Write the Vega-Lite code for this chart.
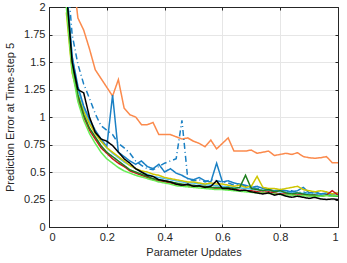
{
  "$schema": "https://vega.github.io/schema/vega-lite/v6.json",
  "autosize": "none",
  "width": 289,
  "height": 220,
  "padding": {"left": 49, "top": 7, "right": 9, "bottom": 36},
  "background": "white",
  "config": {
    "view": {"stroke": "#262626", "strokeWidth": 1},
    "font": "Liberation Sans",
    "axis": {
      "labelFont": "Liberation Sans",
      "titleFont": "Liberation Sans",
      "labelFontSize": 11,
      "titleFontSize": 11,
      "titleFontWeight": "normal",
      "labelColor": "#262626",
      "titleColor": "#262626",
      "domainColor": "#262626",
      "tickColor": "#262626",
      "gridColor": "#e6e6e6",
      "gridWidth": 1
    }
  },
  "data": {
    "values": [
      {"x":0.06,"o":2.9,"bd":2.4,"c":2.2,"b":2.2,"yl":1.95,"r":2.05,"g":2.1,"lg":2.0,"k":2.15},
      {"x":0.08,"o":2.35,"bd":1.75,"c":1.55,"b":1.55,"yl":1.4,"r":1.45,"g":1.48,"lg":1.42,"k":1.5},
      {"x":0.10,"o":1.9,"bd":1.48,"c":1.25,"b":1.28,"yl":1.2,"r":1.17,"g":1.2,"lg":1.14,"k":1.25},
      {"x":0.12,"o":1.79,"bd":1.3,"c":1.08,"b":1.1,"yl":1.05,"r":1.0,"g":1.02,"lg":0.97,"k":1.22},
      {"x":0.14,"o":1.62,"bd":1.17,"c":0.96,"b":0.98,"yl":0.94,"r":0.88,"g":0.9,"lg":0.85,"k":1.0},
      {"x":0.16,"o":1.43,"bd":1.03,"c":0.86,"b":0.88,"yl":0.85,"r":0.8,"g":0.82,"lg":0.76,"k":0.86},
      {"x":0.18,"o":1.35,"bd":0.92,"c":0.78,"b":0.8,"yl":0.78,"r":0.72,"g":0.74,"lg":0.68,"k":0.8},
      {"x":0.20,"o":1.27,"bd":0.88,"c":0.72,"b":0.73,"yl":0.72,"r":0.67,"g":0.68,"lg":0.62,"k":0.78},
      {"x":0.22,"o":1.19,"bd":0.84,"c":0.67,"b":1.2,"yl":0.68,"r":0.62,"g":0.64,"lg":0.58,"k":0.74},
      {"x":0.24,"o":1.34,"bd":0.76,"c":0.63,"b":0.68,"yl":0.64,"r":0.58,"g":0.6,"lg":0.54,"k":0.68},
      {"x":0.26,"o":1.08,"bd":0.72,"c":0.59,"b":0.64,"yl":0.6,"r":0.55,"g":0.56,"lg":0.51,"k":0.62},
      {"x":0.28,"o":1.02,"bd":0.67,"c":0.56,"b":0.6,"yl":0.56,"r":0.51,"g":0.52,"lg":0.49,"k":0.58},
      {"x":0.30,"o":1.0,"bd":0.6,"c":0.53,"b":0.57,"yl":0.53,"r":0.49,"g":0.5,"lg":0.47,"k":0.53},
      {"x":0.32,"o":0.93,"bd":0.56,"c":0.5,"b":0.6,"yl":0.51,"r":0.47,"g":0.48,"lg":0.455,"k":0.5},
      {"x":0.34,"o":0.93,"bd":0.53,"c":0.48,"b":0.55,"yl":0.5,"r":0.45,"g":0.46,"lg":0.44,"k":0.47},
      {"x":0.36,"o":0.95,"bd":0.52,"c":0.46,"b":0.53,"yl":0.48,"r":0.43,"g":0.44,"lg":0.425,"k":0.46},
      {"x":0.38,"o":0.84,"bd":0.55,"c":0.45,"b":0.57,"yl":0.47,"r":0.42,"g":0.43,"lg":0.41,"k":0.43},
      {"x":0.40,"o":0.84,"bd":0.58,"c":0.44,"b":0.5,"yl":0.45,"r":0.41,"g":0.42,"lg":0.4,"k":0.42},
      {"x":0.42,"o":0.84,"bd":0.6,"c":0.43,"b":0.53,"yl":0.44,"r":0.4,"g":0.41,"lg":0.39,"k":0.41},
      {"x":0.44,"o":0.82,"bd":0.62,"c":0.42,"b":0.49,"yl":0.43,"r":0.385,"g":0.4,"lg":0.375,"k":0.39},
      {"x":0.46,"o":0.8,"bd":0.97,"c":0.41,"b":0.47,"yl":0.42,"r":0.38,"g":0.39,"lg":0.37,"k":0.38},
      {"x":0.48,"o":0.81,"bd":0.44,"c":0.4,"b":0.44,"yl":0.41,"r":0.37,"g":0.38,"lg":0.365,"k":0.39},
      {"x":0.50,"o":0.78,"bd":0.42,"c":0.4,"b":0.43,"yl":0.41,"r":0.365,"g":0.38,"lg":0.36,"k":0.37},
      {"x":0.52,"o":0.76,"bd":0.43,"c":0.39,"b":0.45,"yl":0.4,"r":0.37,"g":0.37,"lg":0.355,"k":0.375},
      {"x":0.54,"o":0.73,"bd":0.41,"c":0.385,"b":0.42,"yl":0.39,"r":0.36,"g":0.37,"lg":0.35,"k":0.36},
      {"x":0.56,"o":0.79,"bd":0.43,"c":0.38,"b":0.41,"yl":0.4,"r":0.355,"g":0.36,"lg":0.345,"k":0.37},
      {"x":0.58,"o":0.71,"bd":0.42,"c":0.375,"b":0.58,"yl":0.39,"r":0.35,"g":0.36,"lg":0.34,"k":0.42},
      {"x":0.60,"o":0.76,"bd":0.41,"c":0.37,"b":0.41,"yl":0.39,"r":0.35,"g":0.355,"lg":0.34,"k":0.35},
      {"x":0.62,"o":0.81,"bd":0.4,"c":0.365,"b":0.42,"yl":0.38,"r":0.345,"g":0.36,"lg":0.335,"k":0.35},
      {"x":0.64,"o":0.69,"bd":0.38,"c":0.36,"b":0.4,"yl":0.37,"r":0.34,"g":0.35,"lg":0.33,"k":0.34},
      {"x":0.66,"o":0.69,"bd":0.39,"c":0.355,"b":0.39,"yl":0.38,"r":0.335,"g":0.36,"lg":0.325,"k":0.33},
      {"x":0.68,"o":0.69,"bd":0.37,"c":0.35,"b":0.38,"yl":0.36,"r":0.33,"g":0.47,"lg":0.32,"k":0.335},
      {"x":0.70,"o":0.7,"bd":0.36,"c":0.345,"b":0.36,"yl":0.37,"r":0.33,"g":0.35,"lg":0.315,"k":0.32},
      {"x":0.72,"o":0.67,"bd":0.35,"c":0.34,"b":0.37,"yl":0.46,"r":0.32,"g":0.34,"lg":0.31,"k":0.31},
      {"x":0.74,"o":0.68,"bd":0.36,"c":0.335,"b":0.35,"yl":0.36,"r":0.315,"g":0.33,"lg":0.31,"k":0.3},
      {"x":0.76,"o":0.69,"bd":0.34,"c":0.33,"b":0.34,"yl":0.35,"r":0.32,"g":0.34,"lg":0.305,"k":0.31},
      {"x":0.78,"o":0.65,"bd":0.33,"c":0.325,"b":0.33,"yl":0.35,"r":0.31,"g":0.32,"lg":0.3,"k":0.29},
      {"x":0.80,"o":0.66,"bd":0.34,"c":0.32,"b":0.34,"yl":0.34,"r":0.3,"g":0.33,"lg":0.295,"k":0.3},
      {"x":0.82,"o":0.67,"bd":0.32,"c":0.315,"b":0.33,"yl":0.35,"r":0.3,"g":0.31,"lg":0.29,"k":0.28},
      {"x":0.84,"o":0.66,"bd":0.33,"c":0.31,"b":0.32,"yl":0.36,"r":0.295,"g":0.3,"lg":0.29,"k":0.27},
      {"x":0.86,"o":0.675,"bd":0.31,"c":0.31,"b":0.33,"yl":0.37,"r":0.29,"g":0.31,"lg":0.285,"k":0.28},
      {"x":0.88,"o":0.64,"bd":0.32,"c":0.305,"b":0.36,"yl":0.34,"r":0.29,"g":0.3,"lg":0.285,"k":0.27},
      {"x":0.90,"o":0.63,"bd":0.3,"c":0.3,"b":0.31,"yl":0.33,"r":0.285,"g":0.29,"lg":0.28,"k":0.26},
      {"x":0.92,"o":0.625,"bd":0.31,"c":0.3,"b":0.32,"yl":0.32,"r":0.29,"g":0.29,"lg":0.28,"k":0.27},
      {"x":0.94,"o":0.63,"bd":0.3,"c":0.295,"b":0.3,"yl":0.33,"r":0.28,"g":0.28,"lg":0.28,"k":0.255},
      {"x":0.96,"o":0.64,"bd":0.29,"c":0.29,"b":0.31,"yl":0.32,"r":0.29,"g":0.29,"lg":0.285,"k":0.25},
      {"x":0.98,"o":0.585,"bd":0.3,"c":0.29,"b":0.3,"yl":0.3,"r":0.33,"g":0.28,"lg":0.28,"k":0.255},
      {"x":1.00,"o":0.585,"bd":0.3,"c":0.29,"b":0.31,"yl":0.31,"r":0.29,"g":0.28,"lg":0.285,"k":0.25}
    ]
  },
  "transform": [
    {"fold": ["o", "bd", "c", "b", "yl", "r", "g", "lg", "k"], "as": ["s", "v"]}
  ],
  "resolve": {"axis": {"x": "independent", "y": "independent"}},
  "layer": [
    {
      "mark": {"type": "line", "clip": true, "strokeWidth": 1.5},
      "encoding": {
        "x": {
          "field": "x", "type": "quantitative",
          "scale": {"domain": [0, 1], "nice": false, "zero": false},
          "axis": {"orient": "bottom", "values": [0, 0.2, 0.4, 0.6, 0.8, 1], "format": ".1~f", "title": "Parameter Updates", "grid": true, "tickSize": -3, "labelPadding": 7, "titlePadding": 4}
        },
        "y": {
          "field": "v", "type": "quantitative",
          "scale": {"domain": [0, 2], "nice": false, "zero": false},
          "axis": {"orient": "left", "values": [0, 0.25, 0.5, 0.75, 1, 1.25, 1.5, 1.75, 2], "format": ".2~f", "title": "Prediction Error at Time-step 5", "grid": true, "tickSize": -3, "labelPadding": 7, "titlePadding": 8}
        },
        "color": {
          "field": "s", "type": "nominal", "legend": null,
          "scale": {
            "domain": ["o", "bd", "c", "b", "yl", "r", "g", "lg", "k"],
            "range": ["#fb8a4c", "#1a80c4", "#4dbeee", "#1a80c4", "#cfc600", "#c41a1a", "#1e7f1e", "#66ee55", "#000000"]
          }
        },
        "strokeDash": {
          "field": "s", "type": "nominal", "legend": null,
          "scale": {
            "domain": ["o", "bd", "c", "b", "yl", "r", "g", "lg", "k"],
            "range": [[1, 0], [6, 3, 1, 3], [1, 0], [1, 0], [1, 0], [1, 0], [1, 0], [1, 0], [1, 0]]
          }
        }
      }
    },
    {
      "mark": {"type": "line", "opacity": 0, "clip": true},
      "encoding": {
        "x": {
          "field": "x", "type": "quantitative",
          "axis": {"orient": "top", "values": [0, 0.2, 0.4, 0.6, 0.8, 1], "labels": false, "title": null, "grid": false, "tickSize": -3}
        },
        "y": {
          "field": "v", "type": "quantitative",
          "axis": {"orient": "right", "values": [0, 0.25, 0.5, 0.75, 1, 1.25, 1.5, 1.75, 2], "labels": false, "title": null, "grid": false, "tickSize": -3}
        },
        "detail": {"field": "s", "type": "nominal"}
      }
    }
  ]
}
